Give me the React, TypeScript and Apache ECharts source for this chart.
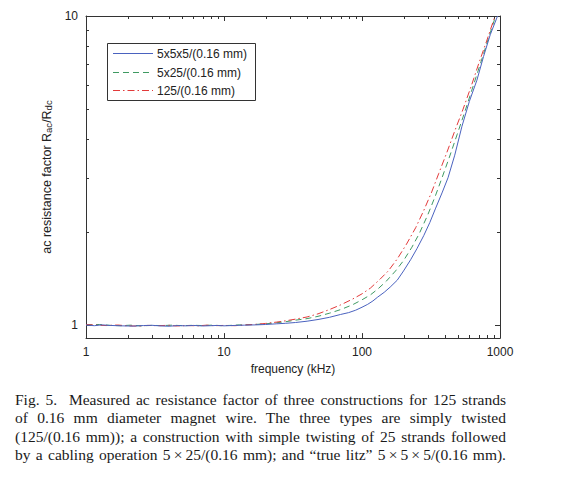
import React, { useEffect, useRef } from "react";
import * as echarts from "echarts";

// ---- Data ----
const seriesNames = ["5x5x5/(0.16 mm)", "5x25/(0.16 mm)", "125/(0.16 mm)"];

const blueFreq = [1, 1.15, 1.3, 1.5, 1.8, 2.2, 2.6, 3, 3.5, 4, 4.6, 5.3, 6, 7, 8, 9, 10, 12, 14, 17, 20, 24, 28, 33, 40, 48, 58, 70, 80, 90, 100, 110, 120, 130, 145, 160, 180, 200, 225, 250, 280, 310, 340, 380, 420, 470, 530, 600, 680, 760, 850, 960];
const blueR = [1.003, 0.998, 1.004, 1.0, 0.997, 0.995, 0.999, 1.001, 0.996, 0.994, 0.999, 0.997, 1.0, 0.996, 0.998, 1.0, 0.997, 1.0, 1.002, 1.004, 1.007, 1.012, 1.016, 1.022, 1.032, 1.045, 1.062, 1.085, 1.1, 1.12, 1.145, 1.17, 1.2, 1.235, 1.28, 1.33, 1.4, 1.5, 1.63, 1.77, 1.95, 2.15, 2.38, 2.68, 3.0, 3.55, 4.4, 5.3, 6.2, 7.4, 8.7, 10.0];

const greenFreq = [1, 1.25, 1.5, 1.8, 2.1, 2.5, 3, 3.6, 4.2, 5, 6, 7, 8.2, 9.5, 11, 13, 16, 20, 24, 28, 33, 40, 48, 58, 70, 85, 100, 115, 130, 150, 175, 200, 230, 260, 300, 340, 380, 430, 490, 560, 640, 720, 820, 930];
const greenR = [1.004, 1.007, 1.0, 0.998, 1.002, 0.997, 1.0, 0.999, 1.002, 0.998, 1.001, 0.999, 1.002, 0.998, 1.0, 1.004, 1.006, 1.012, 1.02, 1.028, 1.04, 1.052, 1.07, 1.095, 1.125, 1.165, 1.21, 1.255, 1.31, 1.39, 1.5, 1.62, 1.79, 1.98, 2.28, 2.62, 3.0, 3.5, 4.15, 4.95, 5.95, 7.0, 8.4, 10.0];

const redFreq = [1, 1.2, 1.4, 1.7, 2, 2.4, 2.8, 3.3, 4, 4.5, 5.5, 6.5, 7.5, 8.5, 10, 12, 14, 17, 20, 24, 28, 33, 40, 48, 58, 70, 85, 100, 115, 135, 155, 180, 210, 245, 280, 320, 360, 410, 470, 540, 620, 700, 800, 920];
const redR = [1.006, 1.002, 0.999, 1.003, 0.997, 0.995, 1.0, 0.998, 1.001, 0.996, 0.999, 0.997, 1.002, 0.998, 1.0, 0.998, 1.003, 1.008, 1.015, 1.025, 1.035, 1.048, 1.065, 1.09, 1.125, 1.165, 1.215, 1.265, 1.32, 1.41, 1.5, 1.64, 1.83, 2.07, 2.35, 2.7, 3.1, 3.6, 4.25, 5.0, 5.95, 7.0, 8.3, 10.0];

const xMin = 1;
const xMax = 1000;
const yMin = 0.91;
const yMax = 10;

const xTickValues = [1, 10, 100, 1000];
const xTickLabels = ["1", "10", "100", "1000"];
const xMinorTicks = [2, 3, 4, 5, 6, 7, 8, 9, 20, 30, 40, 50, 60, 70, 80, 90, 200, 300, 400, 500, 600, 700, 800, 900];
const yTickValues = [1, 10];
const yTickLabels = ["1", "10"];
const yMinorTicks = [2, 3, 4, 5, 6, 7, 8, 9];

const captionLines = [
  "Fig. 5.\u00a0\u00a0Measured ac resistance factor of three constructions for 125 strands",
  "of 0.16 mm diameter magnet wire. The three types are simply twisted",
  "(125/(0.16 mm)); a construction with simple twisting of 25 strands followed",
  "by a cabling operation 5\u2009\u00d7\u200925/(0.16 mm); and \u201ctrue litz\u201d 5\u2009\u00d7\u20095\u2009\u00d7\u20095/(0.16 mm).",
];

// ---- Styles ----
const FONT = "'Liberation Sans', Arial, sans-serif";
const AXIS_COLOR = "#333";
const TEXT_COLOR = "#222";
const MAJOR_LEN = 5;
const MINOR_LEN = 3;
const seriesColors = ["#4a62bf", "#3f9a62", "#e23a3a"];
const seriesDash: (number[] | null)[] = [null, [6, 4], [7, 3, 1.5, 3]];

function zip(a: number[], b: number[]) {
  return a.map((v, i) => [v, b[i]]);
}

function labelFor(values: number[], labels: string[]) {
  return (v: number) => {
    const i = values.findIndex((t) => Math.abs(t - v) < 1e-9 * Math.max(1, t));
    return i >= 0 ? labels[i] : String(v);
  };
}

export default function App() {
  const ref = useRef<HTMLDivElement>(null);

  useEffect(() => {
    if (!ref.current) return;
    const chart = echarts.init(ref.current, undefined, { renderer: "svg" });

    // minor tick items: [x, y, edge] ; edge 0 = bottom/left, 1 = top/right
    const xMinorData: number[][] = [];
    xMinorTicks.forEach((v) => {
      xMinorData.push([v, 2, 0]);
      xMinorData.push([v, 2, 1]);
    });
    const yMinorData: number[][] = [];
    yMinorTicks.forEach((v) => {
      yMinorData.push([2, v, 0]);
      yMinorData.push([2, v, 1]);
    });

    const majorTick = { show: true, inside: true, length: MAJOR_LEN, lineStyle: { color: AXIS_COLOR, width: 1 } };
    const axisLine = { show: true, onZero: false, lineStyle: { color: AXIS_COLOR, width: 1 } };

    // legend drawn as a box with sample lines and labels
    const legendLeft = 107;
    const legendTop = 43;
    const rowY = [53, 72, 90];
    const legendChildren: any[] = [
      { type: "rect", shape: { x: legendLeft + 0.5, y: legendTop + 0.5, width: 148, height: 57 }, style: { fill: "#fff", stroke: AXIS_COLOR, lineWidth: 1 } },
    ];
    seriesNames.forEach((name, i) => {
      legendChildren.push({
        type: "line",
        shape: { x1: legendLeft + 6, y1: rowY[i] + 0.5, x2: legendLeft + 46, y2: rowY[i] + 0.5 },
        style: { stroke: seriesColors[i], lineWidth: 1, lineDash: seriesDash[i] || undefined },
      });
      legendChildren.push({
        type: "text",
        x: legendLeft + 50,
        y: rowY[i] + 0.5,
        style: { text: name, fill: TEXT_COLOR, font: `12px ${FONT}`, verticalAlign: "middle", align: "left" },
      });
    });

    const option: any = {
      animation: false,
      backgroundColor: "#fff",
      textStyle: { fontFamily: FONT },
      grid: { left: 86, top: 16, right: 68, bottom: 37, containLabel: false },
      xAxis: [
        {
          type: "log",
          min: xMin,
          max: xMax,
          position: "bottom",
          axisLine,
          axisTick: majorTick,
          splitLine: { show: false },
          minorTick: { show: false },
          axisLabel: {
            show: true,
            customValues: xTickValues,
            formatter: labelFor(xTickValues, xTickLabels),
            color: TEXT_COLOR,
            fontSize: 12,
            fontFamily: FONT,
            margin: 8,
          },
          name: "frequency (kHz)",
          nameLocation: "middle",
          nameGap: 23,
          nameTextStyle: { color: TEXT_COLOR, fontSize: 12, fontFamily: FONT },
        },
        {
          type: "log",
          min: xMin,
          max: xMax,
          position: "top",
          axisLine,
          axisTick: majorTick,
          splitLine: { show: false },
          minorTick: { show: false },
          axisLabel: { show: false },
        },
      ],
      yAxis: [
        {
          type: "log",
          min: yMin,
          max: yMax,
          position: "left",
          axisLine,
          axisTick: majorTick,
          splitLine: { show: false },
          minorTick: { show: false },
          axisLabel: {
            show: true,
            customValues: yTickValues,
            formatter: labelFor(yTickValues, yTickLabels),
            color: TEXT_COLOR,
            fontSize: 12,
            fontFamily: FONT,
            margin: 8,
          },
          name: "ac resistance factor R{sub|ac}/R{sub|dc}",
          nameLocation: "middle",
          nameRotate: 90,
          nameGap: 29,
          nameTextStyle: {
            color: TEXT_COLOR,
            fontSize: 12.5,
            fontFamily: FONT,
            lineHeight: 14,
            rich: {
              sub: { fontSize: 9.5, fontFamily: FONT, color: TEXT_COLOR, lineHeight: 10, verticalAlign: "bottom", padding: [8, 0, 0, 0] },
            },
          },
        },
        {
          type: "log",
          min: yMin,
          max: yMax,
          position: "right",
          axisLine,
          axisTick: majorTick,
          splitLine: { show: false },
          minorTick: { show: false },
          axisLabel: { show: false },
        },
      ],
      graphic: [{ type: "group", z: 100, children: legendChildren }],
      series: [
        {
          name: seriesNames[0],
          type: "line",
          data: zip(blueFreq, blueR),
          showSymbol: false,
          symbol: "none",
          lineStyle: { color: seriesColors[0], width: 1, type: "solid" },
          itemStyle: { color: seriesColors[0] },
          z: 3,
        },
        {
          name: seriesNames[1],
          type: "line",
          data: zip(greenFreq, greenR),
          showSymbol: false,
          symbol: "none",
          lineStyle: { color: seriesColors[1], width: 1, type: seriesDash[1] },
          itemStyle: { color: seriesColors[1] },
          z: 2,
        },
        {
          name: seriesNames[2],
          type: "line",
          data: zip(redFreq, redR),
          showSymbol: false,
          symbol: "none",
          lineStyle: { color: seriesColors[2], width: 1, type: seriesDash[2] },
          itemStyle: { color: seriesColors[2] },
          z: 2,
        },
        {
          type: "custom",
          data: xMinorData,
          encode: { x: 0, y: 1 },
          renderItem: (_p: any, api: any) => {
            const v = api.value(0);
            const top = api.value(2) === 1;
            const c = api.coord([v, top ? yMax : yMin]);
            const x = Math.round(c[0]);
            const y = Math.round(c[1]);
            return {
              type: "rect",
              shape: { x: x, y: top ? y : y - MINOR_LEN, width: 1, height: MINOR_LEN },
              style: { fill: AXIS_COLOR },
            };
          },
        },
        {
          type: "custom",
          data: yMinorData,
          encode: { x: 0, y: 1 },
          renderItem: (_p: any, api: any) => {
            const v = api.value(1);
            const right = api.value(2) === 1;
            const c = api.coord([right ? xMax : xMin, v]);
            const x = Math.round(c[0]);
            const y = Math.round(c[1]);
            return {
              type: "rect",
              shape: { x: right ? x - MINOR_LEN : x, y: y, width: MINOR_LEN, height: 1 },
              style: { fill: AXIS_COLOR },
            };
          },
        },
      ],
    };

    chart.setOption(option);
    return () => chart.dispose();
  }, []);

  return (
    <div style={{ position: "absolute", left: 0, top: 0, width: 568, height: 480, background: "#fff", overflow: "hidden" }}>
      <div ref={ref} style={{ position: "absolute", left: 0, top: 0, width: 568, height: 380 }} />
      <div
        style={{
          position: "absolute",
          left: 15,
          top: 391,
          width: 491,
          fontFamily: "'Liberation Serif', 'Times New Roman', serif",
          fontSize: 15.5,
          lineHeight: "18.3px",
          color: "#1a1a1a",
        }}
      >
        {captionLines.map((line, i) => (
          <div key={i} style={{ textAlign: "justify", textAlignLast: "justify", whiteSpace: "normal" }}>
            {line}
          </div>
        ))}
      </div>
    </div>
  );
}
